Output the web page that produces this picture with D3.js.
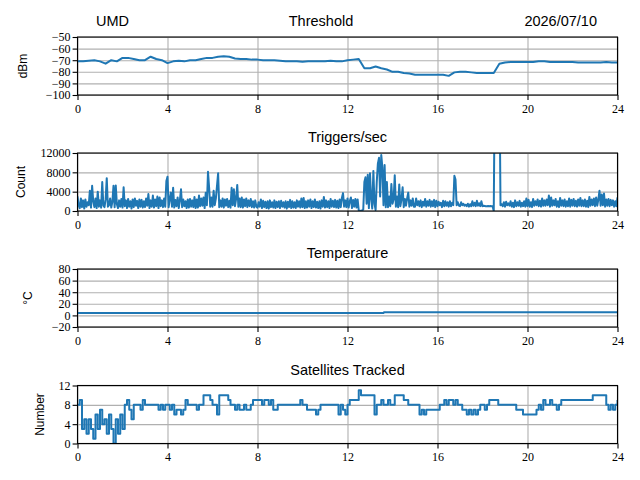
<!DOCTYPE html>
<html>
<head>
<meta charset="utf-8">
<script src="https://cdn.jsdelivr.net/npm/d3@7"></script>
<style>
  body { margin: 0; background: #fff; }
  svg { display: block; }
  .ttl { font-family: "Liberation Sans", "DejaVu Sans", sans-serif; font-size: 14.5px; }
  .lbl { font-family: "Liberation Sans", "DejaVu Sans", sans-serif; font-size: 12px; }
</style>
</head>
<body>
<svg id="chart" width="640" height="480"></svg>
<script>
// x axis: hours of the day
const hourTicks = [0, 4, 8, 12, 16, 20, 24];

// Threshold (dBm), one value every 0.25 h
const thresholdStep = 0.25;
const thresholdValues = [
  -71, -71, -70.5, -70,     -71, -73, -70, -71,      -68, -68, -69, -70,
  -70, -67, -69, -70,       -72.5, -71, -70.5, -71,  -70, -70, -69, -68,
  -68, -67, -66.5, -67,     -68.5, -69, -69, -69.5,  -69.5, -70, -70, -70,
  -70.5, -71, -71, -71,     -71.4, -71, -71, -71,    -71, -70.5, -71, -71,
  -70, -69.5, -69, -77,     -77, -75.5, -77, -78,    -80, -80, -81, -81.5,
  -82.5, -82.5, -82.5, -82.5, -82.5, -82.5, -83.5, -80.5, -80, -80, -80.5, -81,
  -81, -81, -81, -73,       -72, -71.5, -71.5, -71.5, -71.5, -71.5, -71, -71,
  -71.5, -71.5, -71.5, -71.5, -71.5, -72, -72, -72, -72, -72, -71.5, -72,
  -72
];
const thresholdTicks = [-100, -90, -80, -70, -60, -50];

// Triggers per second, one value every 0.05 h (one row per hour)
const triggerStep = 0.05;
const triggerValues = [
  3000, 1200, 600, 2600, 800, 2200, 500, 2400, 900, 1800, 1200, 4200, 700, 5200, 2000, 800, 2600, 600, 4000, 900,
  2200, 700, 6000, 1100, 800, 2400, 6800, 900, 1200, 2600, 700, 1900, 5200, 800, 5300, 1400, 600, 2200, 900, 2500,
  700, 4900, 1000, 2200, 600, 2500, 900, 2000, 500, 2400, 800, 2600, 1100, 2100, 600, 2400, 900, 2300, 700, 2000,
  800, 2600, 1100, 3500, 600, 2200, 900, 3200, 700, 2400, 1000, 3000, 600, 2800, 1000, 2200, 800, 2600, 900, 6200,
  7100, 800, 2400, 3800, 900, 4800, 700, 2300, 1000, 2800, 600, 2200, 4500, 800, 2400, 1000, 2000, 600, 2400, 700,
  2500, 900, 2200, 800, 2900, 600, 2400, 700, 3200, 1000, 2600, 1100, 2800, 600, 3800, 1200, 8100, 4800, 900, 2800,
  900, 4200, 1200, 2600, 5200, 7800, 800, 2200, 900, 2600, 700, 2400, 1100, 2500, 800, 2100, 700, 4800, 1200, 4500,
  1000, 2500, 5400, 900, 2600, 800, 2800, 700, 2400, 1000, 2600, 800, 2200, 1000, 2500, 800, 2000, 700, 2200, 900,
  700, 1800, 900, 2400, 600, 2100, 800, 1900, 600, 2000, 500, 2200, 800, 1800, 700, 2200, 600, 1900, 800, 2000,
  600, 2100, 900, 1800, 700, 2000, 500, 1900, 800, 2300, 600, 2000, 700, 1800, 600, 2200, 900, 2000, 700, 2600,
  800, 2700, 600, 2000, 700, 2200, 900, 2400, 600, 2000, 800, 2400, 700, 1900, 600, 2000, 500, 2200, 900, 2900,
  700, 2200, 800, 2000, 600, 2500, 900, 2100, 800, 2300, 700, 2100, 600, 2400, 800, 2700, 3700, 900, 2200, 800,
  2600, 700, 2000, 2800, 600, 2300, 900, 2500, 700, 2400, 100, 50, 0, 100, 300, 6000, 7000, 1500, 7500, 600,
  7800, 2500, 500, 8300, 1500, 200, 6000, 9800, 11000, 3000, 11600, 9000, 1200, 9500, 800, 6000, 800, 3000, 1000, 5600,
  1500, 2400, 7400, 900, 3000, 800, 5500, 1000, 2400, 4900, 800, 2500, 1100, 2600, 3800, 900, 2200, 1100, 2600, 900,
  900, 2600, 1200, 2000, 1000, 2200, 800, 1900, 1100, 2500, 900, 2000, 1100, 2300, 900, 2000, 1000, 2300, 800, 2100,
  1000, 1900, 1200, 1700, 800, 2100, 1000, 2000, 1100, 1800, 900, 2000, 1000, 1700, 1200, 7300, 6500, 1200, 1800, 1100,
  1000, 1800, 1200, 1500, 1100, 1300, 1000, 1500, 900, 1400, 1000, 2000, 1100, 1700, 1000, 2100, 1100, 1600, 1000, 2000,
  1000, 1100, 1050, 1000, 1000, 1050, 1000, 1050, 1000, 1000, 0, 30000, 30000, 30000, 30000, 30000, 1200, 1400, 1000, 1800,
  900, 1900, 1200, 1600, 1100, 2000, 900, 1700, 800, 2200, 1000, 1800, 1100, 2100, 900, 1700, 1000, 2000, 900, 2600,
  1000, 2300, 900, 1800, 800, 2500, 1100, 2000, 1200, 2400, 1000, 2100, 900, 2600, 1100, 2200, 1100, 2400, 1200, 3200,
  900, 2800, 1100, 2200, 1200, 2500, 900, 2000, 800, 2700, 1100, 2200, 1000, 2400, 900, 2000, 1000, 2600, 900, 2300,
  1100, 2500, 1000, 2100, 900, 2400, 1100, 2700, 1000, 2200, 1000, 2400, 900, 2100, 800, 2900, 1100, 2400, 1200, 2600,
  1000, 2800, 1100, 2400, 4200, 1100, 3400, 1200, 3600, 900, 2400, 1100, 2500, 1000, 2300, 1200, 2200, 900, 2000, 1000,
  2800
];
const triggerTicks = [0, 4000, 8000, 12000];

// Temperature (°C)
const temperatureTimes = [0, 13.6, 13.62, 24];
const temperatureValues = [4, 4, 5.5, 5.5];
const temperatureTicks = [-20, 0, 20, 40, 60, 80];

// Satellites tracked, one value every 0.1 h
const satelliteStep = 0.1;
const satelliteValues = [
  8, 9, 3, 5, 2, 5, 3, 1, 6, 3,
  7, 4, 5, 2, 6, 3, 0, 5, 2, 6,
  3, 8, 9, 7, 5, 8, 8, 8, 7, 9,
  8, 8, 8, 8, 8, 8, 7, 8, 7, 8,
  8, 7, 8, 6, 7, 7, 6, 7, 9, 8,
  8, 8, 8, 7, 8, 8, 10, 10, 10, 9,
  8, 8, 6, 10, 10, 10, 10, 9, 8, 8,
  7, 8, 7, 7, 8, 7, 7, 8, 9, 9,
  9, 9, 8, 9, 9, 8, 9, 7, 7, 8,
  8, 8, 8, 8, 8, 8, 8, 8, 8, 9,
  8, 8, 7, 7, 7, 7, 6, 7, 8, 8,
  8, 8, 8, 8, 8, 8, 6, 8, 7, 6,
  8, 9, 9, 9, 9, 11, 10, 10, 10, 10,
  10, 10, 6, 8, 8, 9, 8, 8, 9, 8,
  8, 10, 10, 10, 10, 9, 9, 8, 8, 8,
  8, 8, 6, 7, 6, 7, 7, 7, 7, 7,
  7, 8, 8, 9, 8, 9, 9, 8, 9, 8,
  8, 7, 7, 6, 7, 6, 7, 6, 7, 8,
  8, 7, 8, 9, 9, 9, 9, 8, 8, 8,
  8, 8, 8, 8, 8, 7, 7, 7, 6, 6,
  6, 6, 6, 6, 7, 8, 7, 9, 8, 8,
  9, 8, 8, 7, 8, 9, 9, 9, 9, 9,
  9, 9, 9, 9, 9, 9, 9, 9, 9, 10,
  10, 10, 10, 10, 10, 8, 7, 8, 7, 8,
  9
];
const satelliteTicks = [0, 4, 8, 12];

const svg = d3.select('#chart');
const W = 640, H = 480;
svg.append('rect').attr('width', W).attr('height', H).attr('fill', '#fff');

const left = 77.5, right = 617.5, ph = 58;
const x = d3.scaleLinear().domain([0, 24]).range([left, right]);
const BLUE = '#1f77b4', GRID = '#b0b0b0';
const SERIF = '"Liberation Serif", "DejaVu Serif", serif';

const panels = [
  { id: 'thr', top: 37, title: 'Threshold', tx: 321, label: 'dBm', lx: 23, domain: [-100, -50], ticks: thresholdTicks,
    pts: thresholdValues.map((v, i) => [i * thresholdStep, v]), curve: d3.curveLinear },
  { id: 'trg', top: 153, title: 'Triggers/sec', tx: 347.5, label: 'Count', lx: 21, domain: [0, 12000], ticks: triggerTicks,
    pts: triggerValues.map((v, i) => [i * triggerStep, v]), curve: d3.curveLinear },
  { id: 'tmp', top: 269, title: 'Temperature', tx: 347.5, label: '°C', lx: 28, domain: [-20, 80], ticks: temperatureTicks,
    pts: temperatureValues.map((v, i) => [temperatureTimes[i], v]), curve: d3.curveLinear },
  { id: 'sat', top: 385.5, title: 'Satellites Tracked', tx: 347.5, label: 'Number', lx: 40, domain: [0, 12], ticks: satelliteTicks,
    pts: satelliteValues.map((v, i) => [i * satelliteStep, v]), curve: d3.curveStepAfter }
];

const fmt = v => (v < 0 ? '\u2212' + Math.abs(v) : String(v));

function styleAxis(sel) {
  sel.select('.domain').remove();
  sel.selectAll('.tick line').attr('stroke', '#000').attr('stroke-width', 1.1);
  sel.selectAll('.tick text')
    .style('font-family', SERIF).style('font-size', '12px').attr('fill', '#000');
}

panels.forEach(p => {
  const y = d3.scaleLinear().domain(p.domain).range([p.top + ph, p.top]);
  const g = svg.append('g');

  // grid (below the data)
  g.append('g').attr('transform', `translate(0,${p.top + ph})`)
    .call(d3.axisBottom(x).tickValues(hourTicks).tickSize(-ph).tickFormat(''))
    .call(s => s.select('.domain').remove())
    .selectAll('line').attr('stroke', GRID).attr('stroke-width', 1.1);
  g.append('g').attr('transform', `translate(${left},0)`)
    .call(d3.axisLeft(y).tickValues(p.ticks).tickSize(-(right - left)).tickFormat(''))
    .call(s => s.select('.domain').remove())
    .selectAll('line').attr('stroke', GRID).attr('stroke-width', 1.1);

  // data line, clipped to the axes box
  svg.append('clipPath').attr('id', 'clip-' + p.id)
    .append('rect').attr('x', left).attr('y', p.top).attr('width', right - left).attr('height', ph);
  g.append('path')
    .datum(p.pts)
    .attr('clip-path', `url(#clip-${p.id})`)
    .attr('fill', 'none')
    .attr('stroke', BLUE)
    .attr('stroke-width', 2)
    .attr('stroke-linejoin', 'round')
    .attr('d', d3.line().x(d => x(d[0])).y(d => y(d[1])).curve(p.curve));

  // frame
  g.append('rect').attr('x', left).attr('y', p.top).attr('width', right - left).attr('height', ph)
    .attr('fill', 'none').attr('stroke', '#000').attr('stroke-width', 1.1);

  // axes with ticks and labels
  g.append('g').attr('transform', `translate(0,${p.top + ph})`)
    .call(d3.axisBottom(x).tickValues(hourTicks).tickSize(4.9).tickPadding(4.5).tickFormat(fmt))
    .call(styleAxis);
  g.append('g').attr('transform', `translate(${left},0)`)
    .call(d3.axisLeft(y).tickValues(p.ticks).tickSize(4.9).tickPadding(2).tickFormat(fmt))
    .call(styleAxis);

  // title and y label
  g.append('text').attr('class', 'ttl').attr('x', p.tx).attr('y', p.top - 11)
    .attr('text-anchor', 'middle').text(p.title);
  g.append('text').attr('class', 'lbl')
    .attr('transform', `translate(${p.lx},${p.top + ph / 2}) rotate(-90)`)
    .attr('text-anchor', 'middle').attr('dominant-baseline', 'central').text(p.label);
});

// station and date around the top title
svg.append('text').attr('class', 'ttl').attr('x', 96).attr('y', 26).text('UMD');
svg.append('text').attr('class', 'ttl').attr('x', 597).attr('y', 26).attr('text-anchor', 'end').text('2026/07/10');
</script>
</body>
</html>
